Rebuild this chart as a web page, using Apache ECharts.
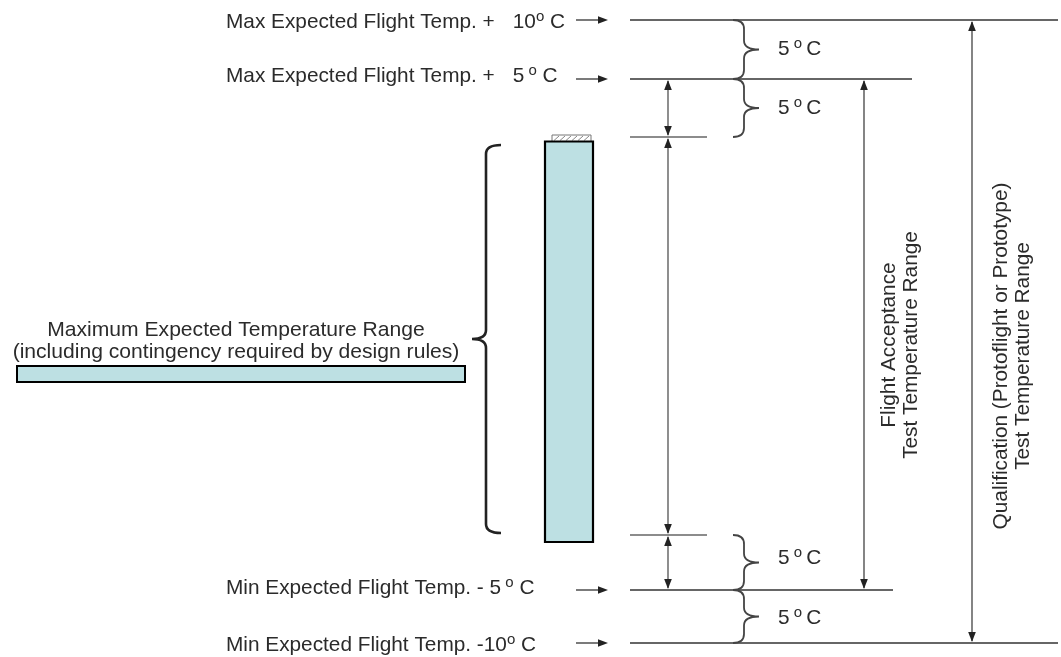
<!DOCTYPE html>
<html><head><meta charset="utf-8">
<script src="https://cdn.jsdelivr.net/npm/echarts@6/dist/echarts.min.js"></script>
<style>html,body{margin:0;padding:0;background:#fff}#c{width:1061px;height:657px}</style>
</head><body><div id="c"></div>
<script>
// ---- Data: temperature levels on the schematic vertical scale (top = 0) ----
const levelNames = ['Qualification max', 'Acceptance max', 'Expected max', 'Expected min', 'Acceptance min', 'Qualification min'];
const levelValues = [20, 79, 137, 535, 590, 643];
const levelLabels = [
  'Max Expected Flight Temp. +{gap| }10{sup|o} C',
  'Max Expected Flight Temp. +{gap| }5{sup| o} C',
  '', '',
  'Min Expected Flight Temp. - 5{sup| o} C',
  'Min Expected Flight Temp. -10{sup|o} C'
];
// 5 °C margins between consecutive levels (index pairs)
const marginPairs = [[0, 1], [1, 2], [3, 4], [4, 5]];
const marginLabel = '5{sup| o }C';
// Test ranges (index pairs) and their names
const rangePairs = [[1, 4], [0, 5]];
const rangeLabels = ['Flight Acceptance\nTest Temperature Range', 'Qualification (Protoflight or Prototype)\nTest Temperature Range'];
// Expected range description
const expectedLabel = 'Maximum Expected Temperature Range\n(including contingency required by design rules)';
// Inner spans drawn with double arrows (index pairs)
const innerSpans = [[1, 2], [2, 3], [3, 4]];

// ---- Layout (x positions on the schematic horizontal scale) ----
const L = {
  lineStart: 630, lineEnd: [1058, 912, 707, 707, 893, 1058],
  labelX: 226, labelDy: [2, -3, 0, 0, -2, 2], arrowFrom: 576, arrowTo: 608,
  innerX: 668, braceX: 744, marginTextX: 778, marginDy: [0, 0, -4, 2],
  rangeX: [864, 972], rangeTextX: [900, 1012], rangeTextY: [345, 356],
  bar: { x0: 545, x1: 593, top: 141.5, bottom: 542, hatchTop: 135, hatchX0: 552, hatchX1: 591 },
  hbar: { x0: 17, x1: 465, y0: 366, y1: 382 },
  bigBrace: { spine: 486, curl: 15, tip: 14, y0: 145, y1: 533, ym: 340 },
  expectedTextX: 236, expectedTextY: 341
};
const FONT = '"Liberation Sans", Arial, Helvetica, sans-serif';
const TXT = '#2b2b2b';
const FILL = '#bde0e3';
const FS = 20.8;

function headPoly(tip, dir) {
  const len = 10, w = 3.8;
  const bx = tip[0] - dir[0] * len, by = tip[1] - dir[1] * len;
  const px = -dir[1] * w, py = dir[0] * w;
  return { type: 'polygon', shape: { points: [tip, [bx + px, by + py], [bx - px, by - py]] }, style: { fill: '#222' } };
}
function vDouble(api, x, ya, yb, color) {
  const a = api.coord([x, ya]), b = api.coord([x, yb]);
  return [
    { type: 'line', shape: { x1: a[0], y1: a[1] + 2, x2: b[0], y2: b[1] - 2 }, style: { stroke: color || '#333', lineWidth: 1.2 } },
    headPoly([a[0], a[1] + 1], [0, -1]),
    headPoly([b[0], b[1] - 1], [0, 1])
  ];
}
function bracePath(api, spineX, dir, ya, yb, curl, tip) {
  const p0 = api.coord([spineX, ya]), p1 = api.coord([spineX, yb]);
  const s = p0[0], y0 = p0[1], y1 = p1[1], ym = (y0 + y1) / 2;
  const c = s - dir * curl, t = s + dir * tip;
  const r = Math.min(9, (y1 - y0) / 5);
  return `M${c},${y0} Q${s},${y0} ${s},${y0 + r} L${s},${ym - r} Q${s},${ym} ${t},${ym} Q${s},${ym} ${s},${ym + r} L${s},${y1 - r} Q${s},${y1} ${c},${y1}`;
}
const richStyles = {
  sup: { fontSize: 15, fontFamily: FONT, fill: TXT, lineHeight: 12, padding: [0, 0, 11, 0] },
  gap: { width: 18, fontSize: FS, fontFamily: FONT, lineHeight: 24 }
};

const option = {
  animation: false,
  backgroundColor: '#fff',
  grid: { left: 0, right: 0, top: 0, bottom: 0 },
  xAxis: { type: 'value', min: 0, max: 1061, show: false },
  yAxis: { type: 'value', min: 0, max: 657, inverse: true, show: false },
  series: [
    {
      name: 'levels', type: 'custom', coordinateSystem: 'cartesian2d',
      data: levelValues.map((v, i) => [i, v]),
      renderItem: function (params, api) {
        const i = params.dataIndex, v = levelValues[i];
        const a = api.coord([L.lineStart, v]), b = api.coord([L.lineEnd[i], v]);
        const short = (i === 2 || i === 3);
        const children = [
          { type: 'line', shape: { x1: a[0], y1: a[1], x2: b[0], y2: b[1] }, style: { stroke: short ? '#666' : '#333', lineWidth: 1.3 } }
        ];
        if (levelLabels[i]) {
          const f = api.coord([L.arrowFrom, v]), t = api.coord([L.arrowTo, v]);
          children.push({ type: 'line', shape: { x1: f[0], y1: f[1], x2: t[0] - 4, y2: t[1] }, style: { stroke: '#222', lineWidth: 1.2 } });
          children.push(headPoly([t[0], t[1]], [1, 0]));
          const lp = api.coord([L.labelX, v + L.labelDy[i]]);
          children.push({
            type: 'text', x: lp[0], y: lp[1],
            style: { text: levelLabels[i], fontSize: FS, fontFamily: FONT, fill: TXT, align: 'left', verticalAlign: 'middle', lineHeight: 24, rich: richStyles }
          });
        }
        return { type: 'group', children: children };
      }
    },
    {
      name: 'inner spans', type: 'custom', coordinateSystem: 'cartesian2d',
      data: innerSpans,
      renderItem: function (params, api) {
        const p = innerSpans[params.dataIndex];
        return { type: 'group', children: vDouble(api, L.innerX, levelValues[p[0]], levelValues[p[1]], '#444') };
      }
    },
    {
      name: 'test ranges', type: 'custom', coordinateSystem: 'cartesian2d',
      data: rangePairs,
      renderItem: function (params, api) {
        const k = params.dataIndex, p = rangePairs[k];
        const ya = levelValues[p[0]], yb = levelValues[p[1]];
        const children = vDouble(api, L.rangeX[k], ya, yb, '#333');
        const c = api.coord([L.rangeTextX[k], L.rangeTextY[k]]);
        children.push({
          type: 'text', x: c[0], y: c[1], rotation: Math.PI / 2,
          style: { text: rangeLabels[k], fontSize: 20.8, fontFamily: FONT, fill: TXT, align: 'center', verticalAlign: 'middle', lineHeight: 22 }
        });
        return { type: 'group', children: children };
      }
    },
    {
      name: 'margins', type: 'custom', coordinateSystem: 'cartesian2d',
      data: marginPairs,
      renderItem: function (params, api) {
        const k = params.dataIndex, p = marginPairs[k];
        const ya = levelValues[p[0]], yb = levelValues[p[1]];
        const d = bracePath(api, L.braceX, 1, ya, yb, 11, 15);
        const tp = api.coord([L.marginTextX, (ya + yb) / 2 + L.marginDy[k]]);
        return { type: 'group', children: [
          { type: 'path', shape: { pathData: d }, style: { fill: null, stroke: '#444', lineWidth: 1.8 } },
          { type: 'text', x: tp[0], y: tp[1], style: { text: marginLabel, fontSize: FS, fontFamily: FONT, fill: TXT, align: 'left', verticalAlign: 'middle', lineHeight: 24, rich: richStyles } }
        ] };
      }
    },
    {
      name: 'expected range', type: 'custom', coordinateSystem: 'cartesian2d',
      data: [[0, 0]],
      renderItem: function (params, api) {
        const B = L.bar, H = L.hbar, G = L.bigBrace;
        const bt = api.coord([B.x0, B.top]), bb = api.coord([B.x1, B.bottom]);
        const ht = api.coord([B.hatchX0, B.hatchTop]), hb = api.coord([B.hatchX1, B.top]);
        const children = [];
        children.push({ type: 'rect', shape: { x: ht[0], y: ht[1], width: hb[0] - ht[0], height: hb[1] - ht[1] }, style: { fill: '#fff', stroke: '#777', lineWidth: 1 } });
        for (let x = ht[0] + 2; x < hb[0] - 2; x += 6) {
          children.push({ type: 'line', shape: { x1: x, y1: hb[1] - 1, x2: Math.min(x + 5, hb[0] - 1), y2: ht[1] + 1 }, style: { stroke: '#888', lineWidth: 1 } });
        }
        children.push({ type: 'rect', shape: { x: bt[0], y: bt[1], width: bb[0] - bt[0], height: bb[1] - bt[1] }, style: { fill: FILL, stroke: '#000', lineWidth: 2.2 } });
        const h0 = api.coord([H.x0, H.y0]), h1 = api.coord([H.x1, H.y1]);
        children.push({ type: 'rect', shape: { x: h0[0], y: h0[1], width: h1[0] - h0[0], height: h1[1] - h0[1] }, style: { fill: FILL, stroke: '#000', lineWidth: 2 } });
        const d = bracePath(api, G.spine, -1, G.y0, G.y1, G.curl, G.tip);
        children.push({ type: 'path', shape: { pathData: d }, style: { fill: null, stroke: '#222', lineWidth: 2.6 } });
        const tp = api.coord([L.expectedTextX, L.expectedTextY]);
        children.push({ type: 'text', x: tp[0], y: tp[1], style: { text: expectedLabel, fontSize: 21.1, fontFamily: FONT, fill: TXT, align: 'center', verticalAlign: 'middle', lineHeight: 22 } });
        return { type: 'group', children: children };
      }
    }
  ]
};
const chart = echarts.init(document.getElementById('c'), null, { renderer: 'canvas' });
chart.setOption(option);
</script>
</body></html>
